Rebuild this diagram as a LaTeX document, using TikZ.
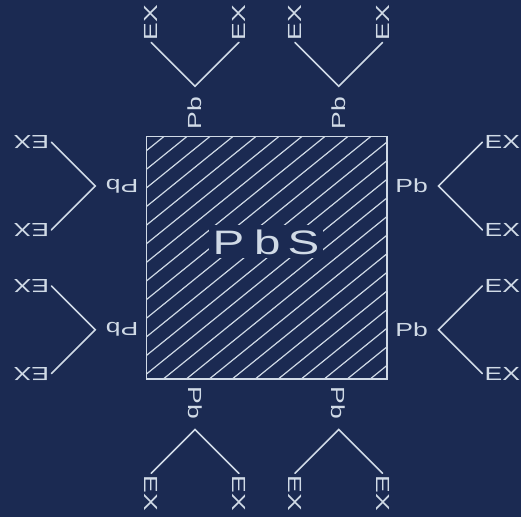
\documentclass[tikz,border=0pt]{standalone}
\usepackage{fontspec}
\setmainfont{Liberation Sans}
\newfontfamily\tizafont[FakeStretch=1.4]{Liberation Sans}
\usetikzlibrary{positioning}
\definecolor{pizarra}{RGB}{27,42,82}
\definecolor{tiza}{RGB}{208,218,230}

\begin{document}
\begin{tikzpicture}[x=1pt,y=1pt,
    lbl/.style={text=tiza,inner sep=2pt,font=\tizafont\fontsize{19}{21}\selectfont},
    rama/.style={tiza,line width=1.6pt,line cap=round}]
  \fill[pizarra] (-267.5,-259.5) rectangle (254.5,258.5);
  % hatching of the crystal
  \begin{scope}
    \clip (-120.5,-121.5) rectangle (120.5,121.5);
    \foreach \i in {-13,...,13}
      \draw[tiza,line width=1.2pt,rotate=39] (-300,\i*14.5) -- (300,\i*14.5);
  \end{scope}
  \node[fill=pizarra,text=tiza,font=\tizafont\fontsize{34}{38}\selectfont,inner sep=4pt]
    (pbs) at (-1,16) {P\hspace{10pt}b\hspace{7pt}S};
  \draw[rama] (-120.5,-121.5) rectangle (120.5,121.5);
  % Pb sites and their branches
  \foreach \a in {0,90,180,270}
    \foreach \s/\k in {-72/a,72/b}{
      \begin{scope}[rotate=\a]
        \node[lbl,rotate=\a] (pb\a\k) at (145,\s) {Pb};
        \coordinate (v\a\k) at (172,\s);
        \node[lbl,rotate=\a,anchor=west] (exu\a\k) at (216,\s+44) {EX};
        \node[lbl,rotate=\a,anchor=west] (exd\a\k) at (216,\s-44) {EX};
        \draw[rama] (exu\a\k.west) -- (v\a\k) -- (exd\a\k.west);
      \end{scope}
    }
\end{tikzpicture}
\end{document}
